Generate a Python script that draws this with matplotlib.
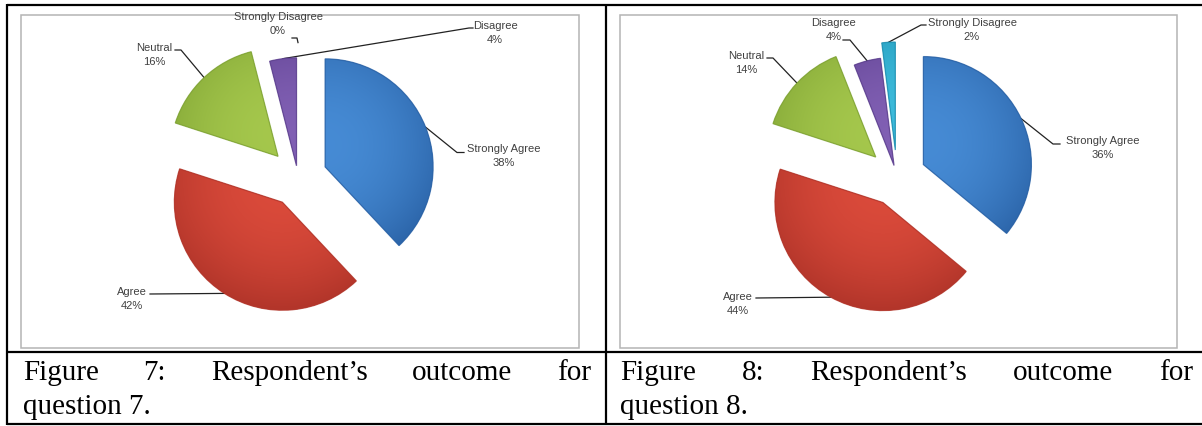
import numpy as np
import matplotlib
matplotlib.use("Agg")
import matplotlib.pyplot as plt
from matplotlib.patches import Rectangle, Wedge
from matplotlib.colors import to_rgb

# ---- data -------------------------------------------------------------
categories = ["Strongly Agree", "Agree", "Neutral", "Disagree", "Strongly Disagree"]
q7_values = [38, 42, 16, 4, 0]
q8_values = [36, 44, 14, 4, 2]
captions = [("Figure 7: Respondent\u2019s outcome for", "question 7."),
            ("Figure 8: Respondent\u2019s outcome for", "question 8.")]

# ---- styling ----------------------------------------------------------
W, H = 1202, 426
slice_light = ["#4d95e0", "#e5503f", "#aed052", "#8a68bd", "#45c6e6"]
slice_dark = ["#2a62a6", "#b2352a", "#7fa334", "#5c3f8e", "#1c8fb0"]
explode_frac = [0.27, 0.27, 0.27, 0.11, 0.25]   # fraction of the radius
radius = 108
label_color = "#404040"

# panel geometry in pixel units (y measured downward)
panels = [
    dict(values=q7_values, box=(21, 15, 579, 348), center=(298, 177.6),
         text_x=(23, 591),
         labels=[  # (text center x, text center y, leader elbow points)
             (504, 156, [(464, 152.5), (457, 152.5)]),
             (132, 299, [(150, 294)]),
             (154, 55, [(175, 50), (181, 50)]),
             (495, 33, [(473, 28), (469, 28)]),
             (278, 24, [(292, 38), (297, 38)]),
         ]),
    dict(values=q8_values, box=(620, 15, 1177, 348), center=(897, 177),
         text_x=(620, 1193),
         labels=[
             (1103, 148, [(1060, 144), (1053, 144)]),
             (738, 304, [(756, 298)]),
             (746, 63, [(767, 58), (773, 58)]),
             (834, 30, [(843, 40), (850, 40)]),
             (972, 30, [(926, 25), (921, 25)]),
         ]),
]

fig = plt.figure(figsize=(W / 100, H / 100), dpi=100)
fig.patch.set_facecolor("white")

# background axes: pixel coordinates, y downward
bg = fig.add_axes([0, 0, 1, 1])
bg.set_xlim(0, W)
bg.set_ylim(H, 0)
bg.axis("off")

# pie axes: pixel coordinates, y upward
pa = fig.add_axes([0, 0, 1, 1])
pa.patch.set_visible(False)

# table rules
rule = dict(color="black", lw=1.6, solid_capstyle="butt")
bg.plot([7, W], [4.5, 4.5], **rule)
bg.plot([7, W], [352, 352], **rule)
bg.plot([7, W], [424, 424], **rule)
bg.plot([7, 7], [4, 425], **rule)
bg.plot([606, 606], [4, 425], **rule)


def shade(ax, wedge, light, dark):
    cx, cy = wedge.center
    r = wedge.r
    n = int(2 * r) + 2
    xs = np.linspace(cx - r, cx + r, n)
    ys = np.linspace(cy - r, cy + r, n)
    X, Y = np.meshgrid(xs, ys)
    d = np.hypot(X - cx, Y - cy) / r
    tv = (cy + r - Y) / (2 * r)
    t = np.clip(0.55 * d ** 2 + 0.45 * tv, 0, 1)[..., None]
    rgb = (1 - t) * np.array(to_rgb(light)) + t * np.array(to_rgb(dark))
    im = ax.imshow(rgb, extent=(cx - r, cx + r, cy - r, cy + r), origin="lower",
                   interpolation="bilinear", zorder=2)
    im.set_clip_path(wedge)
    ax.add_patch(Wedge((cx, cy), r, wedge.theta1, wedge.theta2, fill=False,
                       ec=dark, lw=0.9, alpha=0.8, zorder=3))


for p in panels:
    x0, y0, x1, y1 = p["box"]
    bg.add_patch(Rectangle((x0, y0), x1 - x0, y1 - y0, fill=False,
                           ec="#b4b4b4", lw=1.1, zorder=1))
    cx, cy = p["center"]
    wedges, _ = pa.pie(p["values"], explode=[f * radius for f in explode_frac],
                       startangle=90, counterclock=False, radius=radius,
                       center=(cx, H - cy), colors=slice_dark, frame=True,
                       wedgeprops=dict(linewidth=0, zorder=1))
    for i, w in enumerate(wedges):
        if p["values"][i] > 0:
            shade(pa, w, slice_light[i], slice_dark[i])
        # leader line from the label to the middle of the slice's arc
        wx, wy = w.center
        mid = np.deg2rad((w.theta1 + w.theta2) / 2)
        ax_, ay_ = wx + w.r * np.cos(mid), H - (wy + w.r * np.sin(mid))
        tx, ty, elbows = p["labels"][i]
        pts = list(elbows) + [(ax_, ay_)]
        bg.plot([q[0] for q in pts], [q[1] for q in pts], color="#222222",
                lw=0.9, zorder=4)
        bg.text(tx, ty, f"{categories[i]}\n{p['values'][i]}%", ha="center",
                va="center", fontsize=8, family="Liberation Sans",
                color=label_color, linespacing=1.45, zorder=5)

pa.set_aspect("auto")
pa.set_xlim(0, W)
pa.set_ylim(0, H)
pa.axis("off")

# justified captions
renderer = fig.canvas.get_renderer()
cap_font = dict(family="Liberation Serif", fontsize=21, color="black")
for p, (line1, line2) in zip(panels, captions):
    left, right = p["text_x"]
    words = line1.split(" ")
    arts = [bg.text(0, 380, w_, ha="left", va="baseline", **cap_font) for w_ in words]
    widths = [a.get_window_extent(renderer).width for a in arts]
    gap = (right - left - sum(widths)) / (len(words) - 1)
    x = left
    for a, wd in zip(arts, widths):
        a.set_x(x)
        x += wd + gap
    bg.text(left, 414, line2, ha="left", va="baseline", **cap_font)

fig.savefig("out.png", dpi=100, facecolor="white")
